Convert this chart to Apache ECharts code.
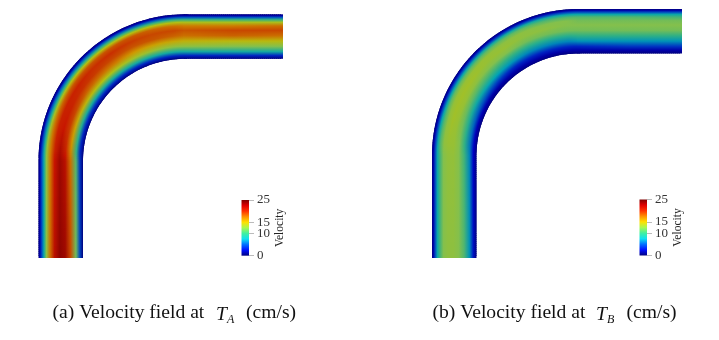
<!DOCTYPE html>
<html>
<head>
<meta charset="utf-8">
<title>Velocity field</title>
<style>
html, body { margin: 0; padding: 0; background: #fff; }
#chart { width: 719px; height: 340px; }
</style>
<script src="https://cdn.jsdelivr.net/npm/echarts@6/dist/echarts.min.js"></script>
</head>
<body>
<div id="chart"></div>
<script>
// positions across the pipe, 0 = outer wall, 1 = inner wall
var crossPos = [0, 0.03, 0.07, 0.12, 0.18, 0.26, 0.36, 0.48, 0.6, 0.72, 0.84, 0.93, 1];

// velocity (cm/s), one row per station along the pipe:
// inlet end, bend start, then every 10 deg of the bend, then 3 on the outlet
var velocityA = [
    [0, 1.5, 4.5, 8, 13, 19, 23, 24.5, 24, 20.5, 12, 4.5, 0],
    [0, 1.5, 4.5, 8, 13, 18.5, 22.5, 24, 23, 19, 11, 4, 0],
    [0, 1.5, 4.5, 8.5, 13.5, 18.5, 22, 23.5, 22, 18, 10, 3.5, 0],
    [0, 1.5, 5, 9, 14, 19, 22, 22.5, 21, 17, 9.5, 3.5, 0],
    [0, 1.5, 5, 9, 14.5, 19.5, 22, 22, 20.5, 16, 9, 3.5, 0],
    [0, 1.5, 5, 9.5, 15, 20, 22, 21.5, 19.5, 15.5, 8.5, 3.5, 0],
    [0, 1.5, 5, 9.5, 15, 20, 21.5, 21, 19, 15, 8.5, 3.5, 0],
    [0, 1.5, 5, 10, 15, 20, 21.5, 20.5, 18.5, 14.5, 8.5, 3.5, 0],
    [0, 1.5, 5, 10, 15, 20, 21, 20, 17.5, 14, 8.5, 3.5, 0],
    [0, 1.5, 5, 10, 15, 19.5, 20.5, 20, 17, 13.5, 8.5, 3.5, 0],
    [0, 1.5, 5, 10, 15, 19, 20.5, 19.5, 16.5, 13, 8.5, 3.5, 0],
    [0, 1.5, 5, 10, 14.5, 18.5, 20, 19, 16, 13, 8.5, 3.5, 0],
    [0, 1.5, 5, 10, 14.5, 18.5, 20.5, 19.5, 15.5, 12.5, 8.5, 3.5, 0],
    [0, 1.5, 5, 10, 14.5, 19, 20.5, 19, 15.5, 12.5, 8.5, 3.5, 0]
];
var velocityB = [
    [0, 1.5, 4.5, 8, 10.5, 12.5, 13, 13, 12.5, 11, 7, 3, 0],
    [0, 1.5, 4.5, 8, 10.5, 12.5, 13.2, 13.3, 12.5, 10.5, 6.5, 2.5, 0],
    [0, 1.5, 4.5, 8, 11, 13, 13.5, 13.5, 12.5, 10, 6, 2.5, 0],
    [0, 1.5, 4.5, 8, 11, 13, 14, 13.5, 12, 9.5, 5.5, 2, 0],
    [0, 1.5, 4.5, 8, 11.5, 13.5, 14, 13.5, 11.5, 8.5, 5, 2, 0],
    [0, 1.5, 4.5, 8, 11.5, 13.5, 14, 13, 11, 8, 4.5, 1.5, 0],
    [0, 1.5, 4.5, 8.5, 11.5, 13.5, 13.5, 12.5, 10.5, 7.5, 4, 1.5, 0],
    [0, 1.5, 4.5, 8.5, 11.5, 13, 13.5, 12.5, 10, 7, 3.5, 1.5, 0],
    [0, 1.5, 4.5, 8.5, 11.5, 13, 13, 12, 9.5, 6.5, 3.5, 1.5, 0],
    [0, 1.5, 4.5, 8.5, 11, 12.5, 13, 12, 9.5, 6.5, 3.5, 1.5, 0],
    [0, 1.5, 4.5, 8, 11, 12.5, 12.5, 12, 9.5, 6.5, 3.5, 1.5, 0],
    [0, 1.5, 4.5, 8, 11, 12, 12.5, 12, 10, 7, 3.5, 1.5, 0],
    [0, 1.5, 4.5, 8, 11, 12, 12.5, 12, 10, 7, 4, 1.5, 0],
    [0, 1.5, 4.5, 8, 10.5, 12, 12.5, 12, 10, 7, 4, 1.5, 0]
];

var scaleValues = [0, 2.5, 5, 7.5, 10, 12.5, 15, 17.5, 20, 22.5, 25];
// the field is shaded darker than its legend
var fieldColors = ['#00007f', '#0000c4', '#0058c0', '#00a4b4', '#30b084', '#84c04c', '#b4c010', '#d09800', '#c85400', '#c81400', '#800000'];
var barColors = ['#00007f', '#0010ff', '#0070ff', '#10e0f0', '#40f0a0', '#a8f850', '#ffe000', '#ff9000', '#ff3000', '#e00000', '#800000'];

var pipeWidth = 44.5;
var outerRadius = 146.5;
var sliceLength = 2;

function fieldColor(v) {
    for (var i = 1; i < scaleValues.length; i++) {
        if (v <= scaleValues[i]) {
            var k = (v - scaleValues[i - 1]) / (scaleValues[i] - scaleValues[i - 1]);
            var a = echarts.color.parse(fieldColors[i - 1]);
            var b = echarts.color.parse(fieldColors[i]);
            return 'rgb(' + Math.round(a[0] + (b[0] - a[0]) * k) + ',' + Math.round(a[1] + (b[1] - a[1]) * k) + ',' + Math.round(a[2] + (b[2] - a[2]) * k) + ')';
        }
    }
    return fieldColors[fieldColors.length - 1];
}

// where each station sits along the centreline of one panel
function stationPositions(bendY, width) {
    var arcR = outerRadius - pipeWidth / 2;
    var arcLen = arcR * Math.PI / 2;
    var outLen = width - outerRadius;
    var pos = [0, bendY];
    for (var a = 5; a < 90; a += 10) pos.push(bendY + arcLen * a / 90);
    pos.push(bendY + arcLen, bendY + arcLen + outLen / 2, bendY + arcLen + outLen);
    return pos;
}

// one slice of the pipe between centreline distances s0 and s1, coloured with
// a gradient across the pipe. Only shading: the slices blend two read stations
function pipeSlice(api, s0, s1, stops, bendY, height) {
    var arcR = outerRadius - pipeWidth / 2;
    var arcLen = arcR * Math.PI / 2;
    var c = api.coord([outerRadius, bendY]);
    var p0, p1, p2, p3;
    if (s0 >= bendY - 0.001 && s1 <= bendY + arcLen + 0.001) {
        var R = api.coord([outerRadius + outerRadius, bendY])[0] - c[0];
        var r0 = R * (outerRadius - pipeWidth) / outerRadius;
        return {
            type: 'sector',
            shape: {
                cx: c[0], cy: c[1], r: R, r0: r0,
                startAngle: Math.PI + (s0 - bendY) / arcR,
                endAngle: Math.PI + (s1 - bendY) / arcR + 0.02,
                clockwise: true
            },
            style: {
                fill: new echarts.graphic.RadialGradient(c[0], c[1], R, crossPos.map(function (t, i) {
                    return { offset: (R - t * (R - r0)) / R, color: stops[i] };
                }).reverse(), true)
            },
            silent: true
        };
    }
    if (s1 <= bendY) {
        p0 = api.coord([0, s0]); p1 = api.coord([pipeWidth, s0]);
        p2 = api.coord([pipeWidth, s1 + 1.5]); p3 = api.coord([0, s1 + 1.5]);
    } else {
        var x0 = outerRadius + s0 - bendY - arcLen, x1 = outerRadius + s1 - bendY - arcLen;
        p0 = api.coord([x0 - 1.5, height]); p1 = api.coord([x0 - 1.5, height - pipeWidth]);
        p2 = api.coord([x1, height - pipeWidth]); p3 = api.coord([x1, height]);
    }
    return {
        type: 'polygon',
        shape: { points: [p0, p1, p2, p3] },
        style: {
            fill: new echarts.graphic.LinearGradient(p0[0], p0[1], p1[0], p1[1], crossPos.map(function (t, i) {
                return { offset: t, color: stops[i] };
            }), true)
        },
        silent: true
    };
}

function pipeRender(rows, bendY, width, height) {
    var pos = stationPositions(bendY, width);
    return function (params, api) {
        var idx = api.value(0);
        var a = pos[idx], b = pos[idx + 1];
        var n = Math.max(1, Math.round((b - a) / sliceLength));
        var children = [];
        for (var k = 0; k < n; k++) {
            var mix = (k + 0.5) / n;
            var stops = rows[idx].map(function (v, i) {
                return fieldColor(v + (rows[idx + 1][i] - v) * mix);
            });
            children.push(pipeSlice(api, a + (b - a) * k / n, a + (b - a) * (k + 1) / n, stops, bendY, height));
        }
        return { type: 'group', children: children };
    };
}

var stationIds = velocityA.slice(1).map(function (r, i) { return [i]; });

var barStops = scaleValues.map(function (v, i) {
    return { offset: v / 25, color: barColors[i] };
});

function hiddenAxis(grid, max) {
    return { gridIndex: grid, type: 'value', min: 0, max: max, show: false };
}
function scaleY(grid) {
    return {
        gridIndex: grid, type: 'value', position: 'right', min: 0, max: 25, interval: 5,
        name: 'Velocity', nameLocation: 'middle', nameGap: 19, nameRotate: 90,
        nameTextStyle: { fontFamily: 'Liberation Serif', fontSize: 11.5, color: '#222' },
        axisLine: { show: false },
        axisTick: { show: true, length: 5, lineStyle: { color: '#bbb' } },
        axisLabel: {
            fontFamily: 'Liberation Serif', fontSize: 13, lineHeight: 8, color: '#333', margin: 8,
            showMinLabel: true, showMaxLabel: true, hideOverlap: false
        },
        splitLine: { show: false }
    };
}
function scaleBar(xi, yi) {
    return {
        type: 'bar', xAxisIndex: xi, yAxisIndex: yi, data: [25], barWidth: '100%', silent: true,
        itemStyle: { color: new echarts.graphic.LinearGradient(0, 1, 0, 0, barStops) }
    };
}

function captionText(x, y, text, size, italic) {
    return {
        type: 'text', left: x, top: y, silent: true,
        style: { text: text, fill: '#111', font: (italic ? 'italic ' : '') + size + 'px "Liberation Serif"' }
    };
}

var myChart = echarts.init(document.getElementById('chart'), null, { renderer: 'canvas' });
var option = {
    backgroundColor: '#fff',
    animation: false,
    grid: [
        { left: 38.5, top: 14.3, width: 244.5, height: 243.7 },
        { left: 432, top: 9, width: 250, height: 249 },
        { left: 241.5, top: 200, width: 7.5, height: 55.7 },
        { left: 639.5, top: 199.5, width: 7.5, height: 56 }
    ],
    xAxis: [
        hiddenAxis(0, 244.5), hiddenAxis(1, 250),
        { gridIndex: 2, type: 'category', data: ['v'], show: false },
        { gridIndex: 3, type: 'category', data: ['v'], show: false }
    ],
    yAxis: [hiddenAxis(0, 243.7), hiddenAxis(1, 249), scaleY(2), scaleY(3)],
    series: [
        {
            type: 'custom', coordinateSystem: 'cartesian2d', xAxisIndex: 0, yAxisIndex: 0, clip: false,
            renderItem: pipeRender(velocityA, 97.2, 244.5, 243.7), data: stationIds
        },
        {
            type: 'custom', coordinateSystem: 'cartesian2d', xAxisIndex: 1, yAxisIndex: 1, clip: false,
            renderItem: pipeRender(velocityB, 102.5, 250, 249), data: stationIds
        },
        scaleBar(2, 2),
        scaleBar(3, 3)
    ],
    graphic: [
        captionText(52.5, 303, '(a) Velocity field at', 19.6),
        captionText(216, 305, 'T', 19.6, true),
        captionText(227, 314, 'A', 12, true),
        captionText(246, 303, '(cm/s)', 19.6),
        captionText(432.5, 303, '(b) Velocity field at', 19.6),
        captionText(596, 305, 'T', 19.6, true),
        captionText(607, 314, 'B', 12, true),
        captionText(626.5, 303, '(cm/s)', 19.6)
    ]
};
myChart.setOption(option);
</script>
</body>
</html>
